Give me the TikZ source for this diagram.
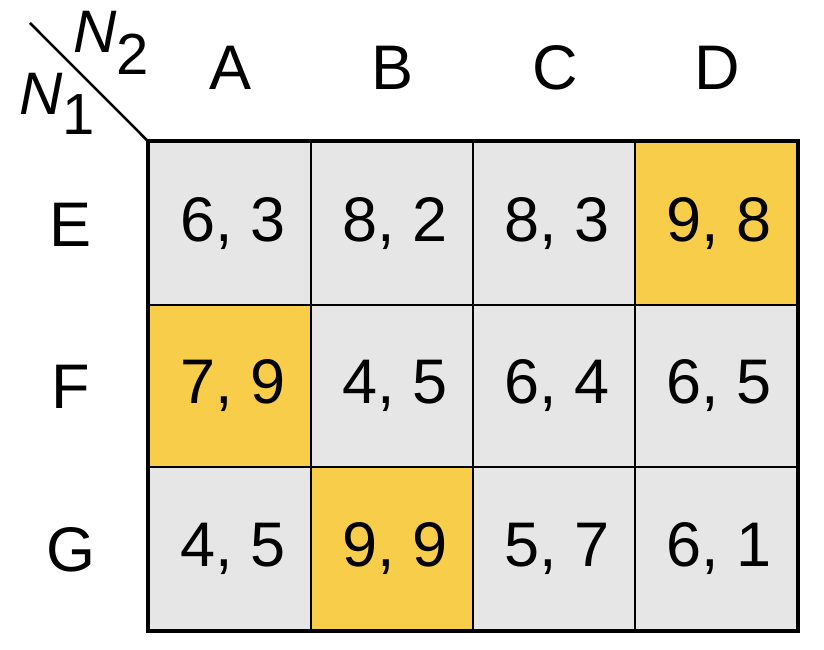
\documentclass[tikz,border=0pt]{standalone}
\usepackage{fontspec}
\setmainfont{Liberation Sans}
\definecolor{cellgray}{HTML}{E6E6E6}
\definecolor{cellgold}{HTML}{F7CD4A}
\begin{document}
\begin{tikzpicture}[x=1pt,y=-1pt,
  cell/.style={draw=black,line width=2pt,minimum width=162pt,minimum height=162.5pt,inner sep=0pt,fill=cellgray,font=\fontsize{63}{63}\selectfont},
  gold/.style={fill=cellgold},
  hdr/.style={inner sep=0pt,font=\fontsize{63}{63}\selectfont}]
\useasboundingbox (0,0) rectangle (824,650);
% cells
\node[cell] (EA) at (230,223.5) {\hspace{6pt}6, 3};
\node[cell] (EB) at (392,223.5) {\hspace{6pt}8, 2};
\node[cell] (EC) at (554,223.5) {\hspace{6pt}8, 3};
\node[cell,gold] (ED) at (716,223.5) {\hspace{6pt}9, 8};
\node[cell,gold] (FA) at (230,386) {\hspace{6pt}7, 9};
\node[cell] (FB) at (392,386) {\hspace{6pt}4, 5};
\node[cell] (FC) at (554,386) {\hspace{6pt}6, 4};
\node[cell] (FD) at (716,386) {\hspace{6pt}6, 5};
\node[cell] (GA) at (230,548.5) {\hspace{6pt}4, 5};
\node[cell,gold] (GB) at (392,548.5) {\hspace{6pt}9, 9};
\node[cell] (GC) at (554,548.5) {\hspace{6pt}5, 7};
\node[cell] (GD) at (716,548.5) {\hspace{6pt}6, 1};
\draw[line width=4pt] (EA.north west) rectangle (GD.south east);
% headers
\node[hdr] (hA) at (231,68) {A};
\node[hdr] (hB) at (393,68) {B};
\node[hdr] (hC) at (555,68) {C};
\node[hdr] (hD) at (717,68) {D};
\node[hdr] (hE) at (71,224.5) {E};
\node[hdr] (hF) at (71,387) {F};
\node[hdr] (hG) at (71,549.5) {G};
% corner
\coordinate (diagstart) at (30,23);
\draw[line width=2.5pt] (diagstart) -- (EA.north west);
\node[hdr,anchor=base west] (n2) at (73,53) {\fontsize{60}{60}\selectfont\itshape N\raisebox{-22pt}{\upshape\fontsize{58}{58}\selectfont 2}};
\node[hdr,anchor=base west] (n1) at (19,115) {\fontsize{60}{60}\selectfont\itshape N\raisebox{-20pt}{\upshape\fontsize{58}{58}\selectfont 1}};
\end{tikzpicture}
\end{document}
